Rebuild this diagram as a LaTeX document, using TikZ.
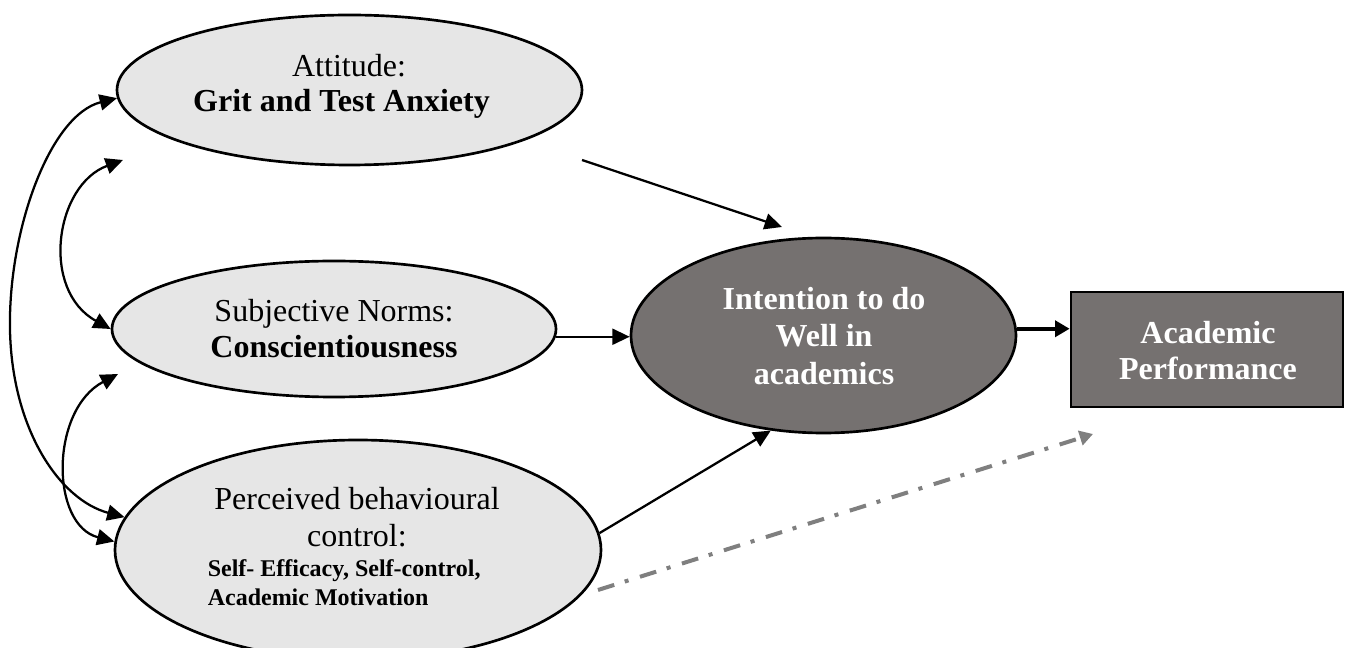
\documentclass[tikz,border=0pt]{standalone}
\usepackage{fontspec}
\setmainfont{Liberation Serif}
\usetikzlibrary{arrows.meta,shapes.geometric}
\definecolor{lightfill}{HTML}{E6E6E6}
\definecolor{darkfill}{HTML}{757170}
\definecolor{dashgray}{HTML}{7F7F7F}
\tikzset{
  oval/.style={ellipse, draw=black, line width=2pt, fill=lightfill, inner sep=0pt},
  darkoval/.style={ellipse, draw=black, line width=2pt, fill=darkfill, inner sep=0pt},
  darkbox/.style={rectangle, draw=black, line width=2pt, fill=darkfill, inner sep=0pt},
  lbl/.style={inner sep=0pt, anchor=base, font=\fontsize{24}{28}\selectfont},
  blbl/.style={lbl, font=\fontsize{24}{28}\selectfont\bfseries},
  wlbl/.style={blbl, text=white},
  slbl/.style={inner sep=0pt, anchor=base west, font=\fontsize{18}{20}\selectfont\bfseries},
  tip/.tip={Triangle[length=13pt,width=12pt]},
  conn/.style={line width=1.7pt, -tip},
  twoway/.style={line width=1.7pt, tip-tip},
  thick conn/.style={line width=3pt, -{Triangle[length=11pt,width=12pt]}},
  dashconn/.style={draw=dashgray, line width=3pt, dash pattern=on 12.75pt off 8.25pt on 3pt off 9pt,
    -{Triangle[length=10pt,width=11pt]}, dashgray}
}
\begin{document}
\begin{tikzpicture}[x=0.75pt,y=-0.75pt]
\useasboundingbox (0,0) rectangle (1347,648);

% nodes
\node[oval, minimum width=348.75pt, minimum height=112.5pt] (att) at (349.5,90) {};
\node[oval, minimum width=333pt, minimum height=102pt] (subj) at (334,329) {};
\node[oval, minimum width=364.5pt, minimum height=165pt] (perc) at (358,550) {};
\node[darkoval, minimum width=288.75pt, minimum height=146.25pt] (int) at (823.5,335.5) {};
\node[darkbox, minimum width=204pt, minimum height=86.25pt] (ap) at (1207,349.5) {};

% texts
\node[lbl] (att1) at (349,77) {Attitude:};
\node[blbl] (att2) at (341.5,112) {Grit and Test Anxiety};
\node[lbl] (subj1) at (334,322) {Subjective Norms:};
\node[blbl] (subj2) at (334,358) {Conscientiousness};
\node[lbl] (perc1) at (357,510) {Perceived behavioural};
\node[lbl] (perc2) at (357,547) {control:};
\node[slbl] (perc3) at (207.5,577) {Self- Efficacy, Self-control,};
\node[slbl] (perc4) at (207.5,605) {Academic Motivation};
\node[wlbl] (int1) at (824,310) {Intention to do};
\node[wlbl] (int2) at (824,347) {Well in};
\node[wlbl] (int3) at (824,385) {academics};
\node[wlbl] (ap1) at (1208,344) {Academic};
\node[wlbl] (ap2) at (1208,380) {Performance};

% free ends
\coordinate (attS) at (582,160);
\coordinate (intN) at (782,227);
\coordinate (attB) at (123,160);
\coordinate (subjB) at (118,374);
\coordinate (dashS) at (598,590);
\coordinate (dashE) at (1093,434);
\coordinate (mid) at (10,330);

% straight connectors
\draw[conn] (attS) -- (intN);
\draw[conn] (subj.-2) -- (subj.-2 -| int.west);
\draw[conn] (perc.4) -- (int.241);
\draw[thick conn] (int.2) -- (int.2 -| ap.west);
\draw[dashconn] (dashS) -- (dashE);

% curved two-way connectors
\draw[twoway] (att.182) .. controls (50,115) and (8,230) .. (mid)
  .. controls (12,430) and (60,500) .. (perc.172);
\draw[twoway] (attB) .. controls (55,185) and (40,290) .. (subj.west);
\draw[twoway] (subjB) .. controls (50,410) and (50,525) .. (perc.178);
\end{tikzpicture}
\end{document}
